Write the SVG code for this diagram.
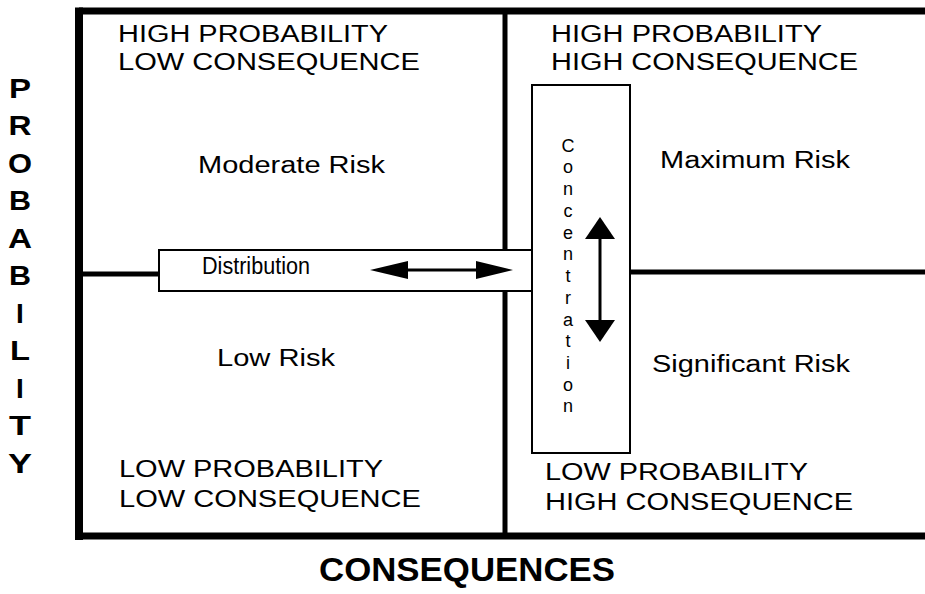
<svg xmlns="http://www.w3.org/2000/svg" width="925" height="594" viewBox="0 0 925 594">
<defs>
<style>
.t{font-family:"Liberation Sans",Arial,sans-serif;font-size:23px;fill:#000}
.c{font-family:"Liberation Sans",Arial,sans-serif;font-size:18px;fill:#000;text-anchor:middle}
.b{font-family:"Liberation Sans",Arial,sans-serif;font-weight:bold;fill:#000}
.frame{stroke:#000;fill:none}
.box{fill:#fff;stroke:#000;stroke-width:2}
</style>
</defs>
<rect width="925" height="594" fill="#fff"/>
<g id="frame">
<line class="frame" x1="79" y1="11" x2="925" y2="11" stroke-width="7"/>
<line class="frame" x1="79" y1="7.5" x2="79" y2="540" stroke-width="8"/>
<line class="frame" x1="75" y1="536" x2="925" y2="536" stroke-width="7"/>
<line class="frame" x1="505" y1="11" x2="505" y2="536" stroke-width="5"/>
<line class="frame" x1="79" y1="274" x2="160" y2="274" stroke-width="5"/>
<line class="frame" x1="630" y1="272" x2="925" y2="272" stroke-width="5"/>
</g>
<g id="q-tl">
<text class="t" x="118" y="42" textLength="270" lengthAdjust="spacingAndGlyphs">HIGH PROBABILITY</text>
<text class="t" x="118" y="70" textLength="302" lengthAdjust="spacingAndGlyphs">LOW CONSEQUENCE</text>
<text class="t" x="198" y="173" textLength="187" lengthAdjust="spacingAndGlyphs">Moderate Risk</text>
</g>
<g id="q-tr">
<text class="t" x="551" y="42" textLength="271" lengthAdjust="spacingAndGlyphs">HIGH PROBABILITY</text>
<text class="t" x="551" y="70" textLength="307" lengthAdjust="spacingAndGlyphs">HIGH CONSEQUENCE</text>
<text class="t" x="660" y="168" textLength="190" lengthAdjust="spacingAndGlyphs">Maximum Risk</text>
</g>
<g id="q-bl">
<text class="t" x="217" y="366" textLength="118" lengthAdjust="spacingAndGlyphs">Low Risk</text>
<text class="t" x="119" y="477" textLength="264" lengthAdjust="spacingAndGlyphs">LOW PROBABILITY</text>
<text class="t" x="119" y="507" textLength="302" lengthAdjust="spacingAndGlyphs">LOW CONSEQUENCE</text>
</g>
<g id="q-br">
<text class="t" x="652" y="372" textLength="198" lengthAdjust="spacingAndGlyphs">Significant Risk</text>
<text class="t" x="545" y="480" textLength="263" lengthAdjust="spacingAndGlyphs">LOW PROBABILITY</text>
<text class="t" x="545" y="510" textLength="308" lengthAdjust="spacingAndGlyphs">HIGH CONSEQUENCE</text>
</g>
<g id="distribution">
<rect class="box" x="159" y="250" width="373" height="41"/>
<text class="t" x="202" y="274" font-size="17" textLength="108" lengthAdjust="spacingAndGlyphs">Distribution</text>
</g>
<g id="concentration">
<rect class="box" x="532" y="85" width="98" height="368"/>
<text class="c" x="568" y="152">C</text>
<text class="c" x="568" y="173">o</text>
<text class="c" x="568" y="195">n</text>
<text class="c" x="568" y="217">c</text>
<text class="c" x="568" y="239">e</text>
<text class="c" x="568" y="260">n</text>
<text class="c" x="568" y="282">t</text>
<text class="c" x="568" y="304">r</text>
<text class="c" x="568" y="326">a</text>
<text class="c" x="568" y="347">t</text>
<text class="c" x="568" y="369">i</text>
<text class="c" x="568" y="391">o</text>
<text class="c" x="568" y="412">n</text>
</g>
<g id="connectors">
<line x1="400" y1="270" x2="485" y2="270" stroke="#000" stroke-width="3"/>
<polygon points="370,270 408,261 408,279" fill="#000"/>
<polygon points="513,270 476,261 476,279" fill="#000"/>
<line x1="600" y1="232" x2="600" y2="326" stroke="#000" stroke-width="3"/>
<polygon points="600,217 585,239 615,239" fill="#000"/>
<polygon points="600,342 585,320 615,320" fill="#000"/>
</g>
<g id="axis-x">
<text class="b" x="467" y="581" font-size="33" text-anchor="middle" textLength="296" lengthAdjust="spacingAndGlyphs">CONSEQUENCES</text>
</g>
<g id="axis-y" class="b" font-size="28" text-anchor="middle">
<text x="20" y="98" textLength="22" lengthAdjust="spacingAndGlyphs">P</text>
<text x="20" y="135" textLength="23" lengthAdjust="spacingAndGlyphs">R</text>
<text x="20" y="173" textLength="24" lengthAdjust="spacingAndGlyphs">O</text>
<text x="20" y="210" textLength="22" lengthAdjust="spacingAndGlyphs">B</text>
<text x="20" y="248" textLength="24" lengthAdjust="spacingAndGlyphs">A</text>
<text x="20" y="285" textLength="22" lengthAdjust="spacingAndGlyphs">B</text>
<text x="20" y="323">I</text>
<text x="20" y="360" textLength="20" lengthAdjust="spacingAndGlyphs">L</text>
<text x="20" y="398">I</text>
<text x="20" y="435" textLength="22" lengthAdjust="spacingAndGlyphs">T</text>
<text x="20" y="473" textLength="24" lengthAdjust="spacingAndGlyphs">Y</text>
</g>
</svg>
